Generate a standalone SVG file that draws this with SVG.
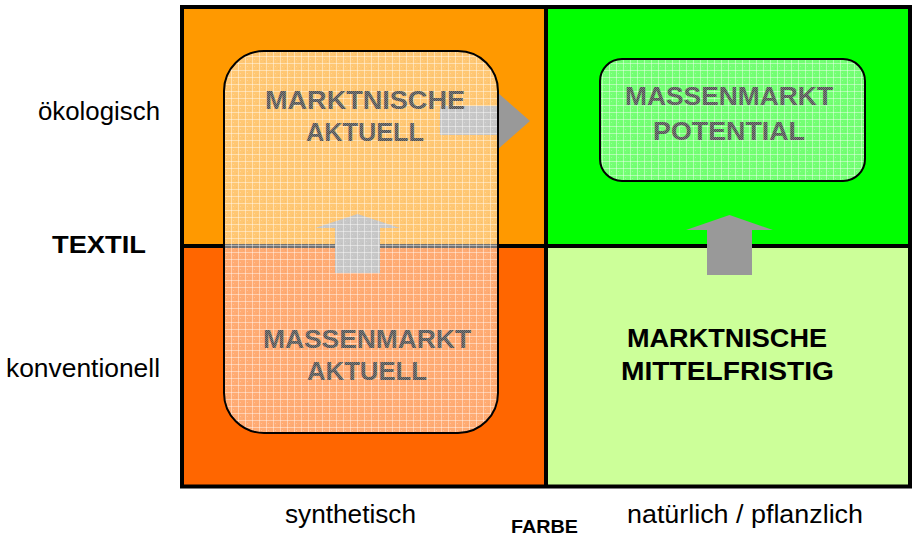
<svg xmlns="http://www.w3.org/2000/svg" width="912" height="538" viewBox="0 0 912 538">
  <defs>
    <!-- translucent white mesh used by the market boxes -->
    <pattern id="mesh" width="7" height="7" patternUnits="userSpaceOnUse">
      <rect width="7" height="7" fill="#ffffff" fill-opacity="0.45"/>
      <rect x="2" y="3" width="1" height="1" fill="#ffffff" fill-opacity="0.25"/>
      <rect x="5" y="5" width="1" height="1" fill="#000000" fill-opacity="0.04"/>
      <path d="M0 0.5H7M0.5 0V7" stroke="#ffffff" stroke-opacity="0.42" stroke-width="1"/>
    </pattern>
    <!-- dithered grey for the box captions -->
    <pattern id="dither" width="2" height="2" patternUnits="userSpaceOnUse">
      <rect width="2" height="2" fill="#7d7d7d"/>
      <rect width="1" height="1" fill="#505050"/>
      <rect x="1" y="1" width="1" height="1" fill="#505050"/>
    </pattern>
  </defs>
  <style>
    .axis { font-family: "Liberation Sans", Arial, sans-serif; font-size: 25px; fill: #000000; }
    .axisB { font-family: "Liberation Sans", Arial, sans-serif; font-weight: bold; fill: #000000; }
    .box { stroke: #000000; stroke-width: 2; fill: url(#mesh); }
    .cap { font-family: "Liberation Sans", Arial, sans-serif; font-weight: bold; font-size: 26px; fill: url(#dither); text-anchor: middle; }
    .capB { font-family: "Liberation Sans", Arial, sans-serif; font-weight: bold; font-size: 25px; fill: #000000; text-anchor: middle; }
    .arrow { fill: #999999; }
    .line { stroke: #000000; stroke-width: 4; fill: none; }
  </style>

  <rect width="912" height="538" fill="#ffffff"/>

  <!-- quadrants -->
  <g id="quadrants">
    <rect id="q-oeko-synth" x="182" y="7" width="364" height="239" fill="#FF9900"/>
    <rect id="q-oeko-nat" x="546" y="7" width="364" height="239" fill="#00FF00"/>
    <rect id="q-konv-synth" x="182" y="246" width="364" height="240.5" fill="#FF6600"/>
    <rect id="q-konv-nat" x="546" y="246" width="364" height="240.5" fill="#CCFF99"/>
    <line class="line" x1="546" y1="7" x2="546" y2="486.5"/>
    <line class="line" x1="182" y1="246" x2="910" y2="246"/>
    <rect class="line" x="182" y="7" width="728" height="479.5"/>
  </g>

  <!-- transition arrows -->
  <g id="connectors">
    <polygon class="arrow" points="440,106 497,106 497,92 530,121 497,150 497,135 440,135"/>
    <polygon class="arrow" points="335,273 335,228 315,228 357.5,214 400,228 380,228 380,273"/>
    <polygon class="arrow" points="707,275 707,230 686,230 729.5,215 773,230 752,230 752,275"/>
  </g>

  <!-- market boxes -->
  <g id="nische-synth">
    <rect class="box" x="224" y="51" width="274" height="382" rx="40" ry="40"/>
    <text class="cap" x="365" y="109" textLength="200" lengthAdjust="spacingAndGlyphs">MARKTNISCHE</text>
    <text class="cap" x="365" y="141" textLength="118" lengthAdjust="spacingAndGlyphs">AKTUELL</text>
    <text class="cap" x="367" y="348" textLength="208" lengthAdjust="spacingAndGlyphs">MASSENMARKT</text>
    <text class="cap" x="367" y="380" textLength="120" lengthAdjust="spacingAndGlyphs">AKTUELL</text>
  </g>

  <g id="massenmarkt-potential">
    <rect class="box" x="600" y="59" width="265" height="122" rx="22" ry="22"/>
    <text class="cap" x="729" y="105" textLength="208" lengthAdjust="spacingAndGlyphs">MASSENMARKT</text>
    <text class="cap" x="729" y="140" textLength="152" lengthAdjust="spacingAndGlyphs">POTENTIAL</text>
  </g>

  <g id="nische-mittelfristig">
    <text class="capB" x="727" y="347" textLength="200" lengthAdjust="spacingAndGlyphs">MARKTNISCHE</text>
    <text class="capB" x="727.5" y="380" textLength="213" lengthAdjust="spacingAndGlyphs">MITTELFRISTIG</text>
  </g>

  <!-- axis labels -->
  <g id="axis-textil">
    <text class="axis" x="38" y="120" textLength="122" lengthAdjust="spacingAndGlyphs">ökologisch</text>
    <text class="axisB" x="52" y="253" font-size="24" textLength="94" lengthAdjust="spacingAndGlyphs">TEXTIL</text>
    <text class="axis" x="6" y="377" textLength="154" lengthAdjust="spacingAndGlyphs">konventionell</text>
  </g>
  <g id="axis-farbe">
    <text class="axis" x="285" y="523" textLength="131" lengthAdjust="spacingAndGlyphs">synthetisch</text>
    <text class="axisB" x="511" y="533" font-size="18" textLength="67" lengthAdjust="spacingAndGlyphs">FARBE</text>
    <text class="axis" x="627" y="523" textLength="236" lengthAdjust="spacingAndGlyphs">natürlich / pflanzlich</text>
  </g>
</svg>
